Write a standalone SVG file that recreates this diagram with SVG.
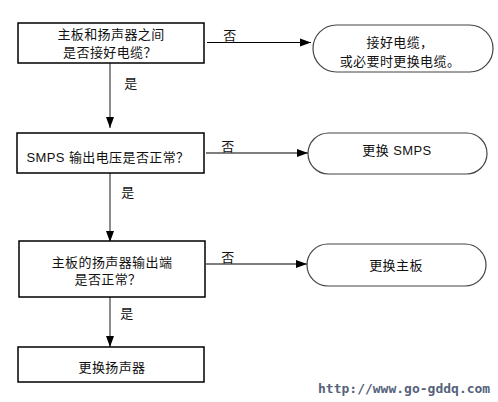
<svg xmlns="http://www.w3.org/2000/svg" width="498" height="402" viewBox="0 0 498 402">
<style>
.box{fill:#fff;stroke:#000;stroke-width:1.5}
.term{fill:#fff;stroke:#444;stroke-width:1.2}
.t{font-family:"Liberation Sans","Noto Sans CJK SC",sans-serif;font-size:13px;fill:#111;text-anchor:middle;letter-spacing:0.4px}
.h{stroke:#000;stroke-width:1.2;fill:none}
.v{stroke:#666;stroke-width:1.5;fill:none}
.wm{font-family:"DejaVu Sans Mono",monospace;font-weight:bold;font-size:13px;fill:#55627a}
</style>
<defs>
<marker id="ah" markerWidth="12" markerHeight="10" refX="11" refY="5" orient="auto" markerUnits="userSpaceOnUse">
<path d="M0,1 L11,5 L0,9 Z" fill="#000"/>
</marker>
</defs>
<rect width="498" height="402" fill="#fff"/>
<g id="connectors">
<path class="v" d="M110,63 V128" marker-end="url(#ah)"/>
<path class="v" d="M110,173 V242" marker-end="url(#ah)"/>
<path class="v" d="M110,297 V347" marker-end="url(#ah)"/>
<path class="h" d="M207,42.5 H311" marker-end="url(#ah)"/>
<path class="h" d="M206,153 H308" marker-end="url(#ah)"/>
<path class="h" d="M206,264 H307" marker-end="url(#ah)"/>
<text class="t" x="230" y="40">否</text>
<text class="t" x="228" y="151">否</text>
<text class="t" x="228" y="262">否</text>
<text class="t" x="131" y="88">是</text>
<text class="t" x="128" y="197">是</text>
<text class="t" x="127" y="318">是</text>
</g>
<g id="q1">
<rect class="box" x="18" y="23" width="186" height="40"/>
<text class="t" x="111" y="39">主板和扬声器之间</text>
<text class="t" x="110" y="57">是否接好电缆？</text>
</g>
<g id="r1">
<rect class="term" x="313" y="25" width="180" height="47" rx="23.5" ry="23.5"/>
<text class="t" x="400" y="47">接好电缆，</text>
<text class="t" x="400" y="66">或必要时更换电缆。</text>
</g>
<g id="q2">
<rect class="box" x="17" y="133" width="187" height="40"/>
<text class="t" x="108" y="162">SMPS 输出电压是否正常？</text>
</g>
<g id="r2">
<rect class="term" x="308" y="133" width="179" height="41" rx="20.5" ry="20.5"/>
<text class="t" x="397" y="155">更换 SMPS</text>
</g>
<g id="q3">
<rect class="box" x="19" y="241" width="186" height="56"/>
<text class="t" x="112" y="267">主板的扬声器输出端</text>
<text class="t" x="108" y="284">是否正常？</text>
</g>
<g id="r3">
<rect class="term" x="307" y="244" width="179" height="42" rx="21" ry="21"/>
<text class="t" x="396" y="270">更换主板</text>
</g>
<g id="a4">
<rect class="box" x="18" y="347" width="186" height="35"/>
<text class="t" x="112" y="372">更换扬声器</text>
</g>
<text class="wm" x="318" y="393">http://www.go-gddq.com</text>
</svg>
